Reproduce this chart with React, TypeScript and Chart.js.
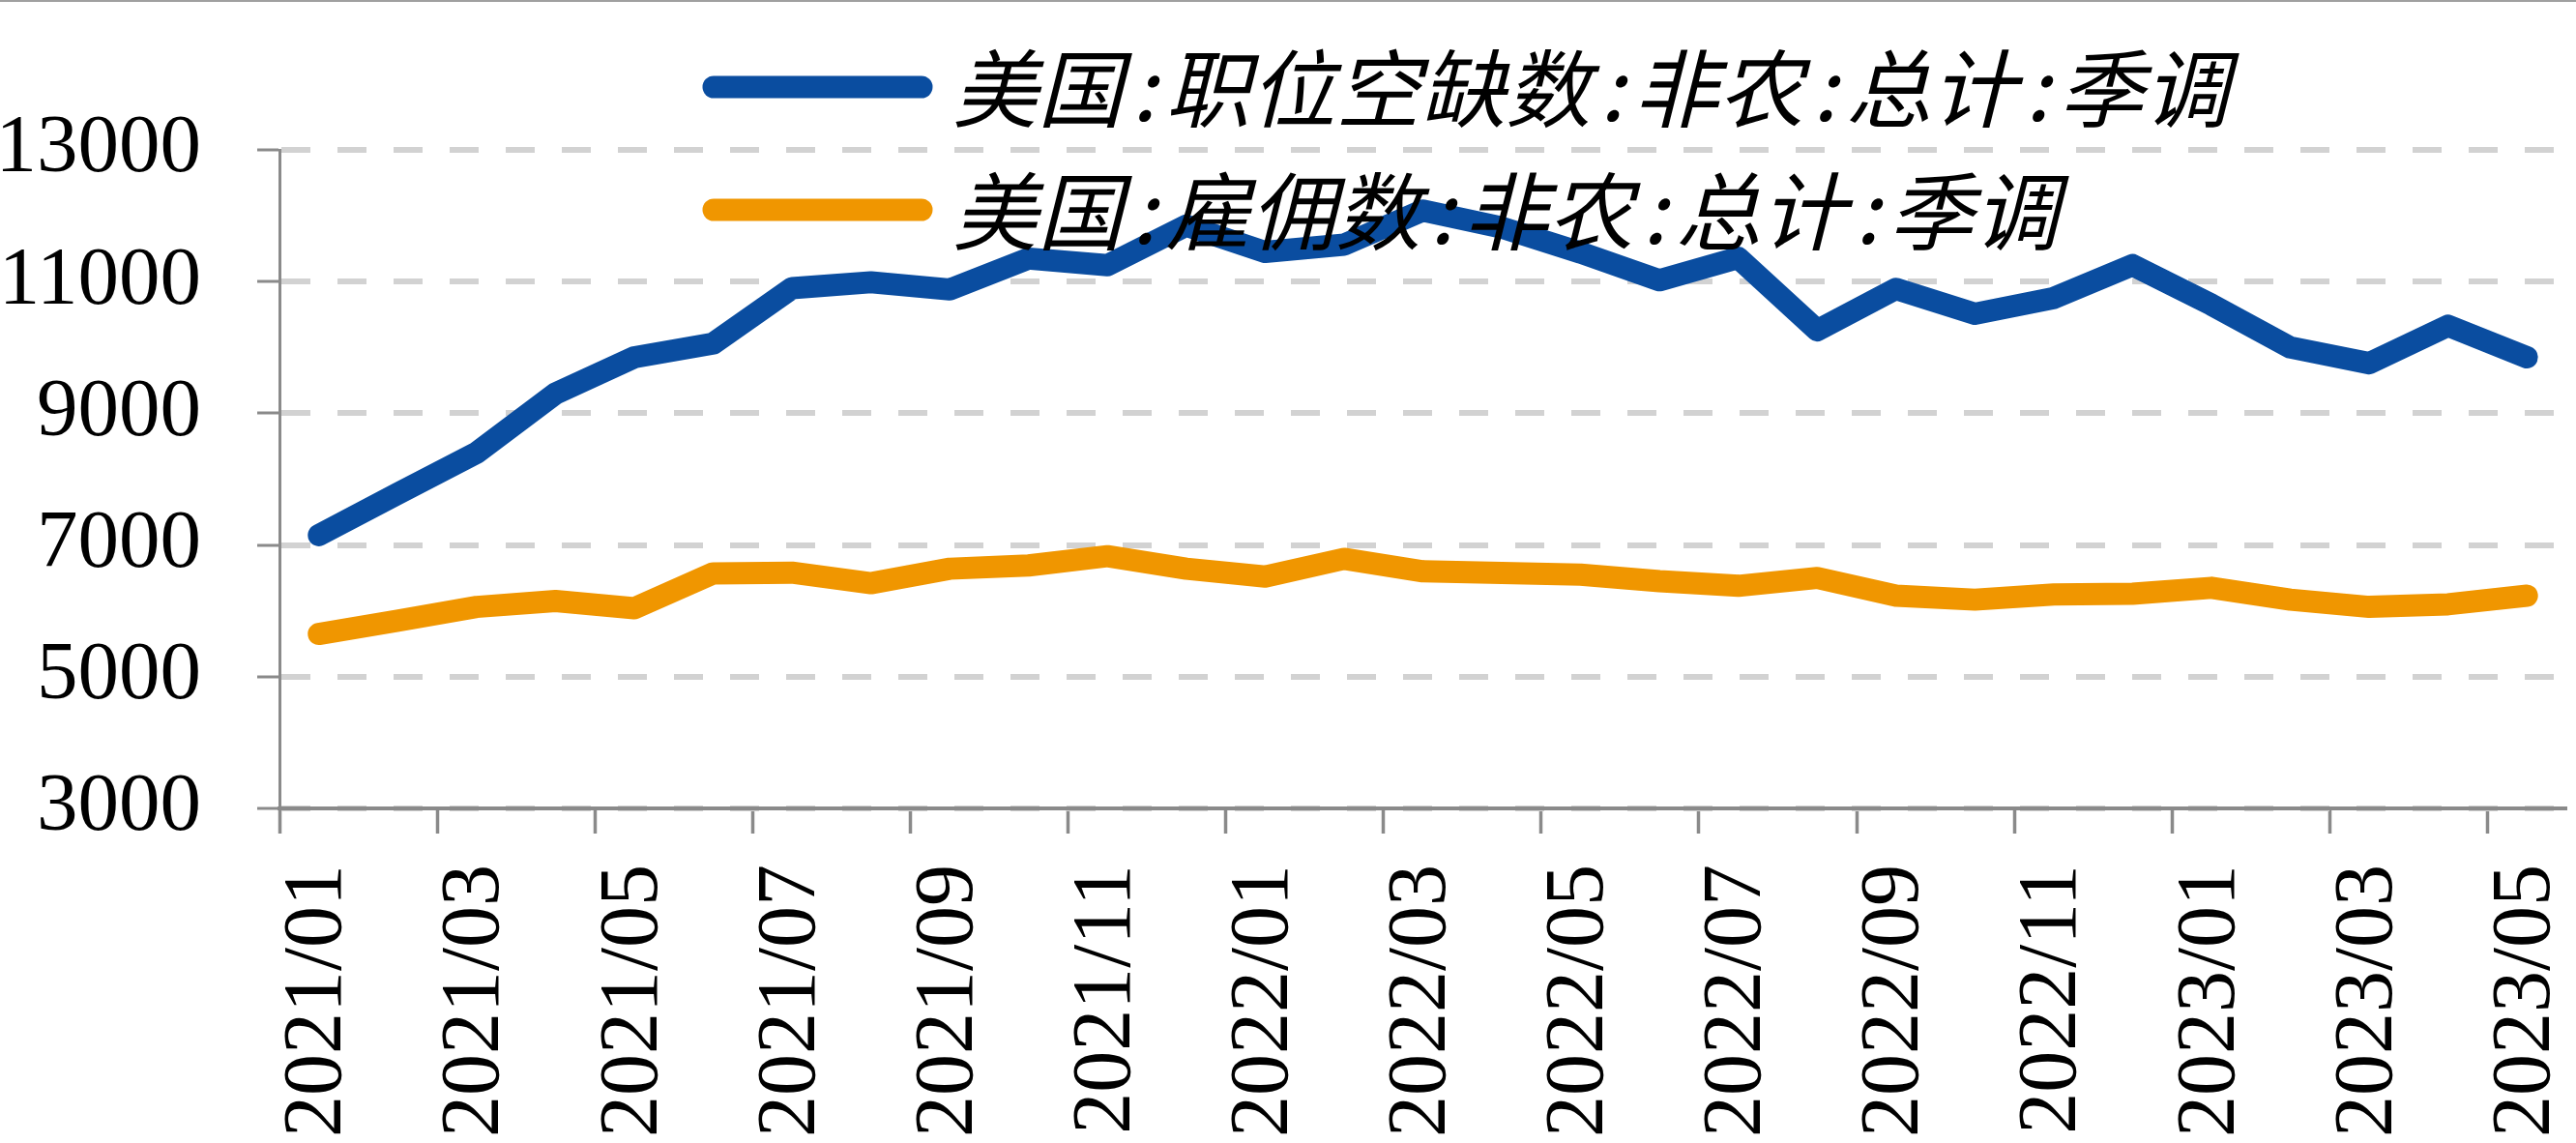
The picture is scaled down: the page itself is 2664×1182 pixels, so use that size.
import React, { useEffect, useRef } from "react";
import { Chart, registerables } from "chart.js";

Chart.register(...registerables);

const months: string[] = [
  "2021/01", "2021/02", "2021/03", "2021/04", "2021/05", "2021/06", "2021/07", "2021/08", "2021/09", "2021/10",
  "2021/11", "2021/12", "2022/01", "2022/02", "2022/03", "2022/04", "2022/05", "2022/06", "2022/07", "2022/08",
  "2022/09", "2022/10", "2022/11", "2022/12", "2023/01", "2023/02", "2023/03", "2023/04", "2023/05",
];

const openings: number[] = [
  7150, 7780, 8400, 9300, 9850, 10060, 10900, 10990, 10880, 11350,
  11250, 11850, 11450, 11560, 12080, 11820, 11440, 11020, 11360, 10260,
  10890, 10510, 10750, 11250, 10650, 10000, 9760, 10330, 9850,
];

const hires: number[] = [
  5650, 5850, 6060, 6150, 6040, 6570, 6580, 6420, 6640, 6690,
  6830, 6640, 6520, 6790, 6600, 6575, 6550, 6450, 6380, 6500,
  6230, 6170, 6250, 6260, 6350, 6170, 6060, 6100, 6230,
];

const seriesNames: string[] = [
  "美国:职位空缺数:非农:总计:季调",
  "美国:雇佣数:非农:总计:季调",
];

const yTicks: number[] = [3000, 5000, 7000, 9000, 11000, 13000];

const BLUE = "#0A4DA0";
const ORANGE = "#F09600";
const AXIS = "#8a8a8a";
const GRID = "#d2d2d2";

const W = 2664;
const H = 1182;

const legendPlugin = {
  id: "customLegend",
  afterDraw(chart: any) {
    const ctx = chart.ctx as CanvasRenderingContext2D;
    const rows = [90, 217];
    chart.data.datasets.forEach((ds: any, i: number) => {
      const y = rows[i];
      ctx.save();
      ctx.strokeStyle = ds.borderColor;
      ctx.lineWidth = 23;
      ctx.lineCap = "round";
      ctx.beginPath();
      ctx.moveTo(738, y);
      ctx.lineTo(953, y);
      ctx.stroke();
      ctx.font = "italic 88px 'Noto Sans Mono CJK SC', 'Noto Sans CJK SC', sans-serif";
      ctx.fillStyle = "#000";
      ctx.textAlign = "left";
      ctx.textBaseline = "middle";
      ctx.fillText(ds.label, 985, y + 2);
      ctx.restore();
    });
  },
};

export default function App() {
  const canvasRef = useRef<HTMLCanvasElement | null>(null);

  useEffect(() => {
    if (!canvasRef.current) return;
    const serif = "'Liberation Serif', 'Times New Roman', serif";
    const chart = new Chart(canvasRef.current, {
      type: "line",
      data: {
        labels: months,
        datasets: [
          {
            label: seriesNames[0],
            data: openings,
            borderColor: BLUE,
            backgroundColor: BLUE,
            borderWidth: 23,
            pointRadius: 0,
            tension: 0,
            borderCapStyle: "round",
            borderJoinStyle: "round",
          },
          {
            label: seriesNames[1],
            data: hires,
            borderColor: ORANGE,
            backgroundColor: ORANGE,
            borderWidth: 23,
            pointRadius: 0,
            tension: 0,
            borderCapStyle: "round",
            borderJoinStyle: "round",
          },
        ],
      },
      options: {
        responsive: false,
        animation: false,
        devicePixelRatio: 1,
        layout: { padding: { top: 155, right: 10, left: 0, bottom: 0 } },
        plugins: {
          legend: { display: false },
          tooltip: { enabled: false },
        },
        scales: {
          x: {
            type: "category",
            offset: true,
            afterFit: (scale: any) => {
              scale.height = 346;
              scale.paddingLeft = 0;
              scale.paddingRight = 0;
            },
            grid: {
              offset: true,
              drawOnChartArea: false,
              drawTicks: true,
              tickLength: 26,
              tickWidth: 3.5,
              tickColor: (c: any) => (c.index % 2 === 0 ? AXIS : "rgba(0,0,0,0)"),
            },
            border: { display: true, color: AXIS, width: 4 },
            ticks: {
              autoSkip: false,
              minRotation: 90,
              maxRotation: 90,
              padding: 32,
              color: "#000",
              font: { family: serif, size: 86 },
              callback: (_v: any, i: number) => (i % 2 === 0 ? months[i] : ""),
            },
          },
          y: {
            min: yTicks[0],
            max: yTicks[yTicks.length - 1],
            afterFit: (scale: any) => {
              scale.width = 289;
            },
            afterBuildTicks: (scale: any) => {
              scale.ticks = yTicks.map((v) => ({ value: v }));
            },
            grid: {
              color: GRID,
              lineWidth: 6,
              drawTicks: true,
              tickLength: 23,
              tickWidth: 3,
              tickColor: AXIS,
              tickBorderDash: [],
            },
            border: { display: true, color: AXIS, width: 3, dash: [30, 28] },
            ticks: {
              padding: 58,
              color: "#000",
              font: { family: serif, size: 85 },
              callback: (v: any) => String(v),
            },
          },
        },
      },
      plugins: [legendPlugin],
    });
    return () => chart.destroy();
  }, []);

  return (
    <div style={{ position: "fixed", left: 0, top: 0, width: W, height: H, background: "#fff" }}>
      <canvas ref={canvasRef} width={W} height={H} style={{ display: "block" }} />
      <div style={{ position: "absolute", left: 0, top: 0, width: W, height: 2, background: "#a0a0a0" }} />
    </div>
  );
}
